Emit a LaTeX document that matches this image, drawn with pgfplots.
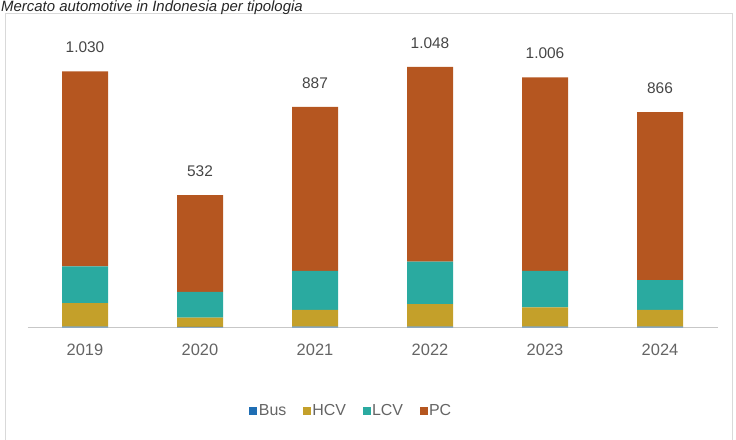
\documentclass[border=0pt]{standalone}
\usepackage{pgfplots}
\pgfplotsset{compat=1.18}
\usepackage{fontspec}
\setmainfont{Liberation Sans}
\definecolor{cBus}{RGB}{31,110,180}
\definecolor{cHCV}{RGB}{196,160,42}
\definecolor{cLCV}{RGB}{42,170,160}
\definecolor{cPC}{RGB}{181,86,32}
\definecolor{tickgray}{RGB}{100,100,100}
\definecolor{valgray}{RGB}{70,70,70}
\begin{document}
\begin{tikzpicture}[x=1bp,y=1bp]
\useasboundingbox (0,0) rectangle (736,440);
\draw[black!15, line width=0.8bp] (5.5,-5) rectangle (732.5,426.5);
\node[anchor=base west, inner sep=0pt, text=black!85, font=\fontsize{15}{17}\selectfont\itshape] at (1,428.5) {Mercato automotive in Indonesia per tipologia};
\begin{axis}[
  at={(27.5bp,112.7bp)}, anchor=south west,
  scale only axis, width=690bp, height=273.4bp,
  xmin=-0.5, xmax=5.5, ymin=0, ymax=1100,
  ybar stacked, bar width=46bp,
  hide y axis,
  axis x line*=bottom,
  x axis line style={black!22, line width=0.8bp},
  xtick={0,1,2,3,4,5},
  xticklabels={2019,2020,2021,2022,2023,2024},
  major tick length=0pt,
  /pgf/number format/assume math mode=true,
  xticklabel style={anchor=base, yshift=-28bp, text=tickgray, font=\fontsize{16.5}{18}\selectfont},
  legend style={at={(0.469,-0.306)}, anchor=center, draw=none, fill=none,
    legend columns=4, font=\fontsize{16}{18}\selectfont, text=tickgray,
    nodes={inner sep=1.5bp},
    /tikz/every even column/.append style={column sep=15bp},
    inner sep=0pt},
  legend image code/.code={\fill[#1,draw=none] (0bp,-4bp) rectangle (8bp,4bp);},
  every axis plot/.append style={draw=none},
]
\addplot[fill=cBus] coordinates {(0,3) (1,2) (2,3) (3,3) (4,3) (5,3)};
\addplot[fill=cHCV] coordinates {(0,94) (1,37) (2,67) (3,90) (4,77) (5,67)};
\addplot[fill=cLCV] coordinates {(0,148) (1,104) (2,157) (3,171) (4,147) (5,120)};
\addplot[fill=cPC] coordinates {(0,785) (1,389) (2,660) (3,784) (4,779) (5,676)};
\legend{Bus,HCV,LCV,PC}
\end{axis}
\begin{axis}[
  at={(27.5bp,112.7bp)}, anchor=south west,
  scale only axis, width=690bp, height=273.4bp,
  xmin=-0.5, xmax=5.5, ymin=0, ymax=1100,
  hide axis, clip=false,
]
\addplot[draw=none, mark=none, point meta=explicit symbolic,
  nodes near coords, nodes near coords style={anchor=base, yshift=18.5bp, inner sep=0pt, text=valgray, font=\fontsize{15.5}{17}\selectfont}]
  coordinates {(0,1030) [1.030] (1,532) [532] (2,887) [887] (3,1048) [1.048] (4,1006) [1.006] (5,866) [866]};
\end{axis}
\end{tikzpicture}
\end{document}
